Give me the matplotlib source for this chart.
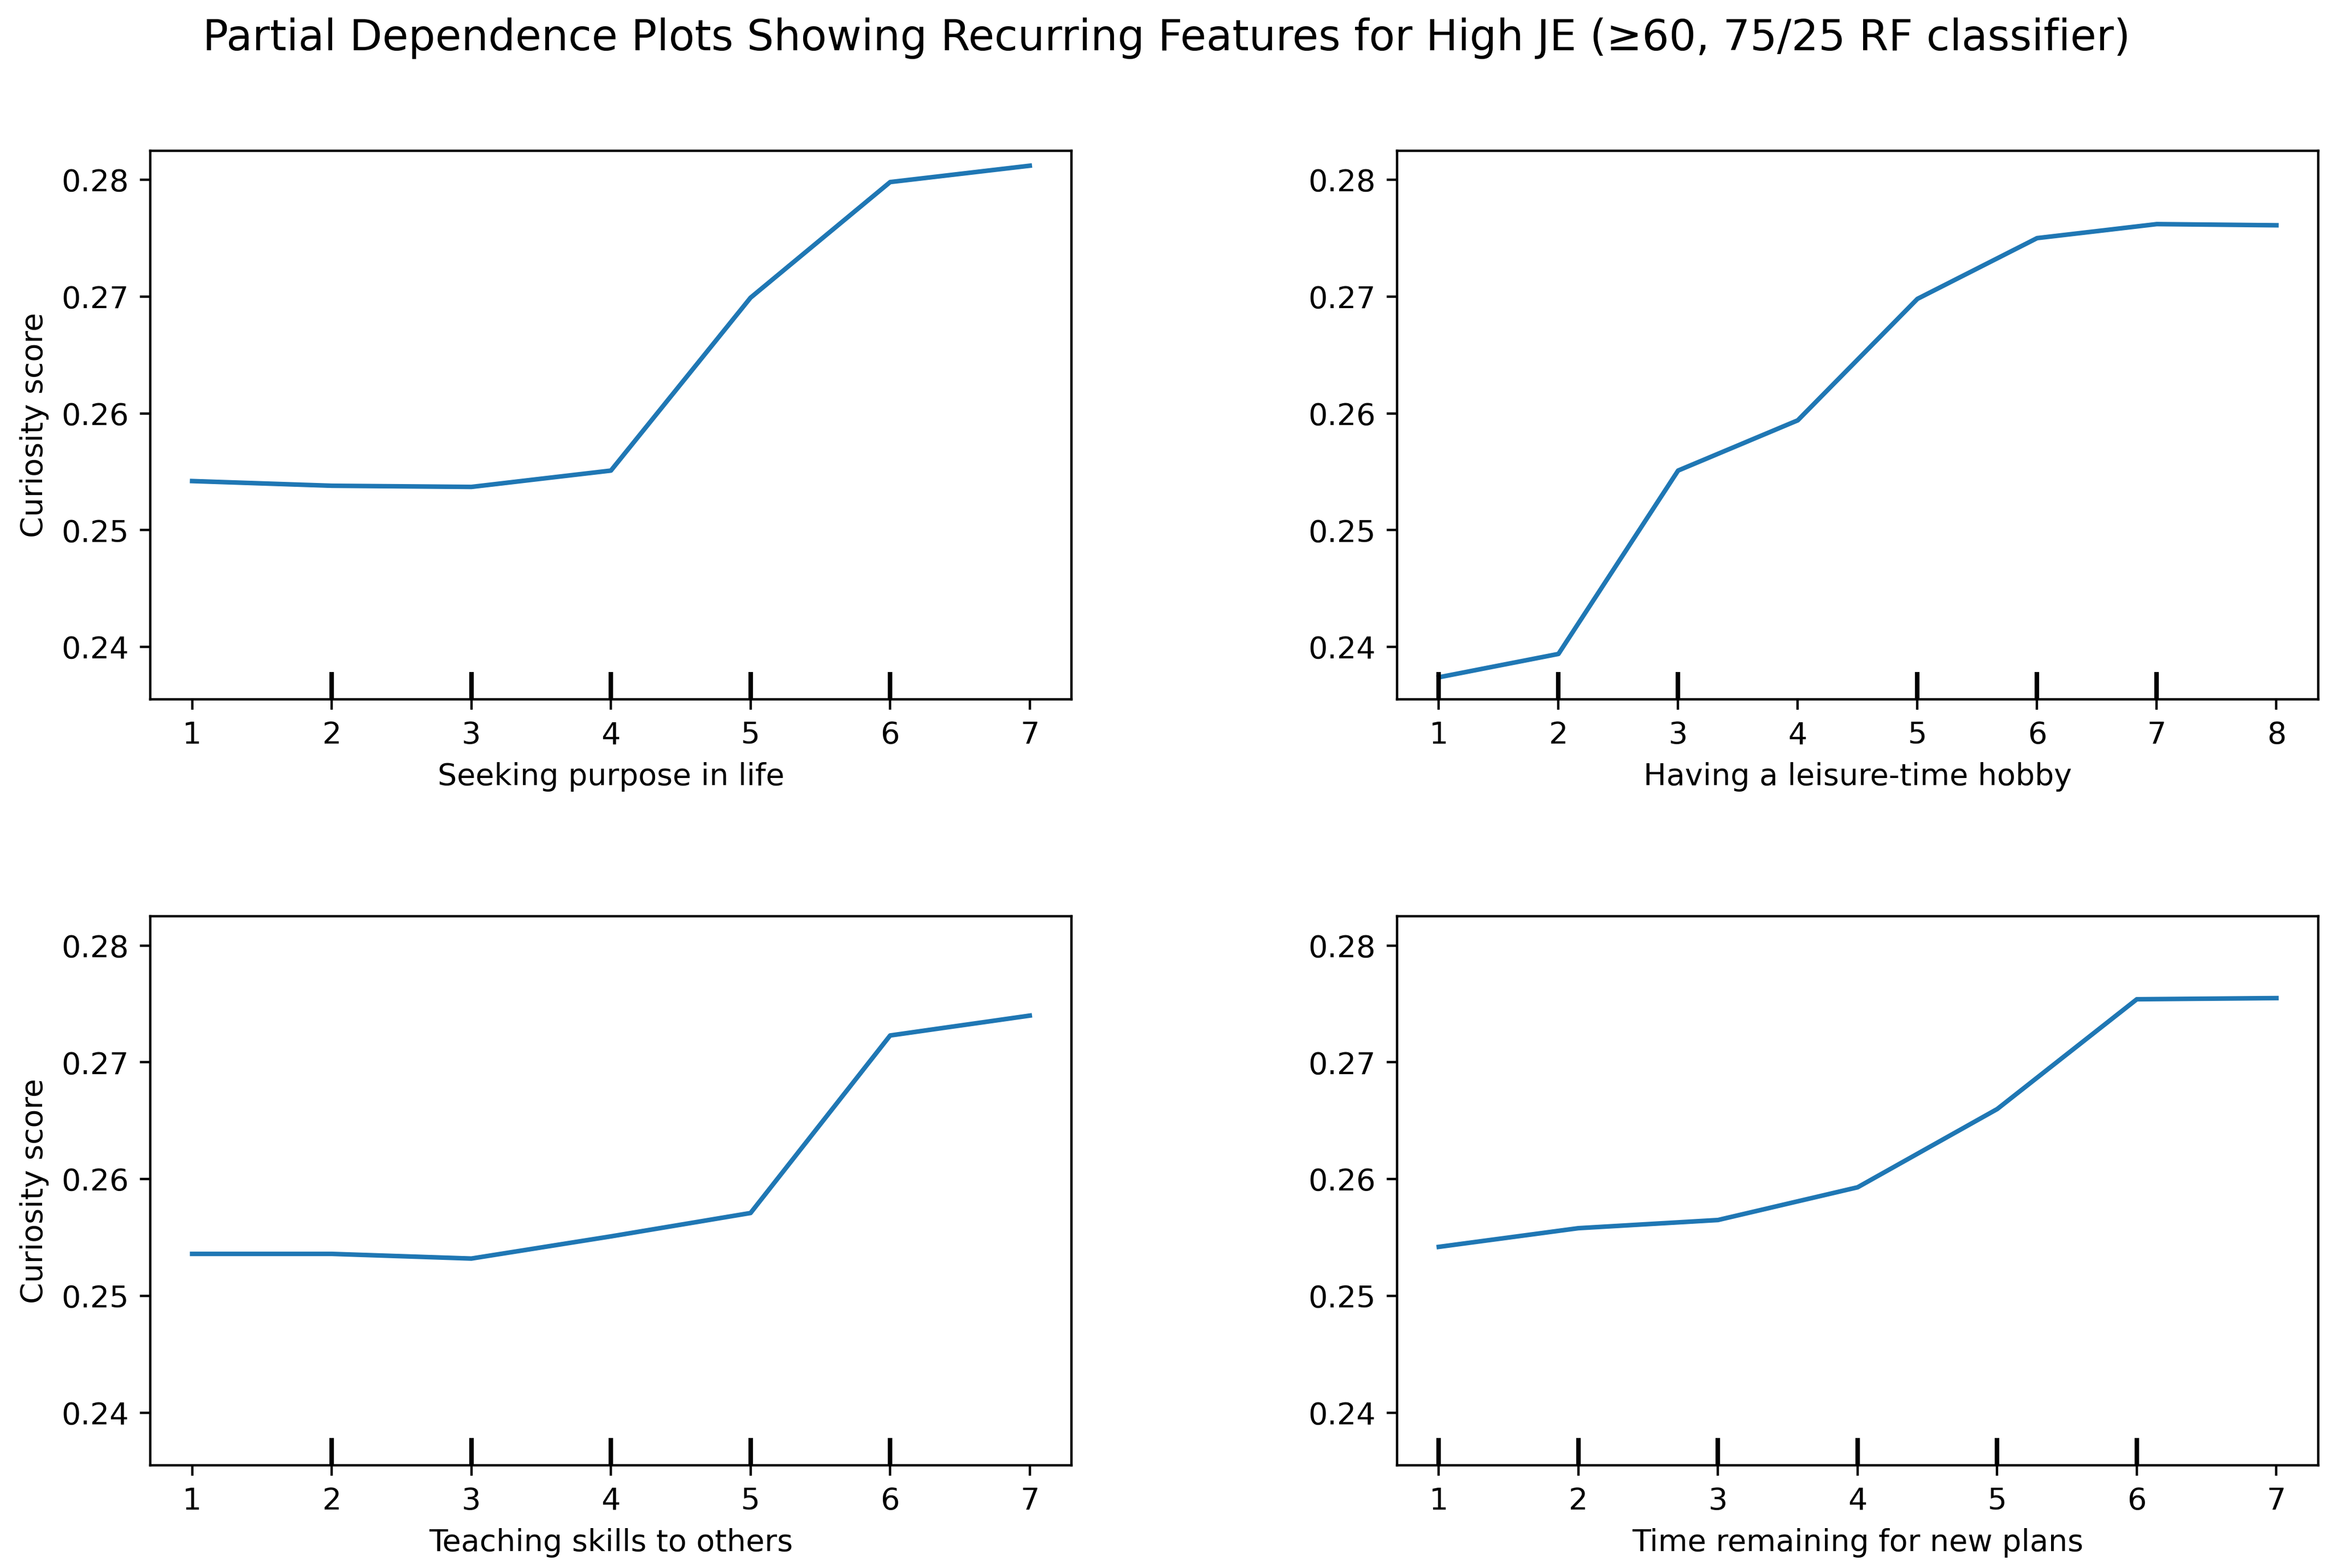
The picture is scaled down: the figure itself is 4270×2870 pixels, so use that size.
import numpy as np
import matplotlib.pyplot as plt
from matplotlib import transforms

title = "Partial Dependence Plots Showing Recurring Features for High JE (\u226560, 75/25 RF classifier)"
ylabel = "Curiosity score"

feature_names = [
    "Seeking purpose in life",
    "Having a leisure-time hobby",
    "Teaching skills to others",
    "Time remaining for new plans",
]

grid_purpose = [1, 2, 3, 4, 5, 6, 7]
pd_purpose = [0.2542, 0.2538, 0.2537, 0.2551, 0.2699, 0.2798, 0.2812]
deciles_purpose = [2, 3, 4, 5, 6]

grid_hobby = [1, 2, 3, 4, 5, 6, 7, 8]
pd_hobby = [0.2374, 0.2394, 0.2551, 0.2594, 0.2698, 0.2750, 0.2762, 0.2761]
deciles_hobby = [1, 2, 3, 5, 6, 7]

grid_teach = [1, 2, 3, 4, 5, 6, 7]
pd_teach = [0.2536, 0.2536, 0.2532, 0.2551, 0.2571, 0.2723, 0.2740]
deciles_teach = [2, 3, 4, 5, 6]

grid_time = [1, 2, 3, 4, 5, 6, 7]
pd_time = [0.2542, 0.2558, 0.2565, 0.2593, 0.2660, 0.2754, 0.2755]
deciles_time = [1, 2, 3, 4, 5, 6]

grids = [grid_purpose, grid_hobby, grid_teach, grid_time]
pds = [pd_purpose, pd_hobby, pd_teach, pd_time]
deciles = [deciles_purpose, deciles_hobby, deciles_teach, deciles_time]

fig, axes = plt.subplots(2, 2, figsize=(10.675, 7.175), dpi=400)
fig.subplots_adjust(left=0.0644, right=0.9937, bottom=0.0655, top=0.904,
                    wspace=0.353, hspace=0.395)

for i, ax in enumerate(axes.flat):
    ax.plot(grids[i], pds[i], color="#1f77b4", linewidth=1.5)
    # decile marks along the bottom, like sklearn's PartialDependenceDisplay
    trans = transforms.blended_transform_factory(ax.transData, ax.transAxes)
    ax.vlines(deciles[i], 0, 0.05, transform=trans, color="k")
    ax.set_ylim(0.2355, 0.2825)
    ax.set_yticks([0.24, 0.25, 0.26, 0.27, 0.28])
    ax.set_xticks(grids[i])
    ax.set_xlabel(feature_names[i])
    if i % 2 == 0:
        ax.set_ylabel(ylabel)

fig.suptitle(title, fontsize=14, y=0.989)
fig.savefig("out.png")
